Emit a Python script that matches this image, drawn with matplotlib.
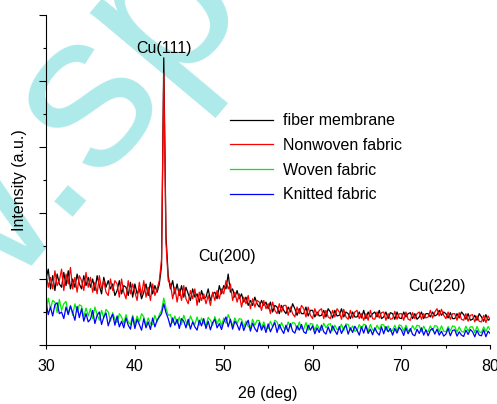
'''
XRD patterns of the Cu coated textiles
'''

import numpy as np
import matplotlib.pyplot as plt

plt.rcParams['font.family'] = ['Liberation Sans', 'DejaVu Sans']

# 2 theta grid, one reading every 0.25 deg from 30 to 80
two_theta = np.arange(30, 80.001, 0.25)

fiber_membrane = [
    2.00, 2.30, 1.70, 2.10, 1.65, 2.15, 1.85, 1.75, 2.20, 1.80, 2.25, 1.70,
    2.00, 1.75, 2.15, 1.85, 1.70, 2.10, 1.80, 2.05, 1.75, 2.00, 1.65, 2.10,
    1.80, 1.55, 2.05, 1.75, 1.95, 1.70, 1.85, 1.50, 1.65, 1.95, 1.55, 1.80,
    1.75, 1.50, 1.90, 1.45, 1.85, 1.55, 1.70, 1.40, 1.60, 1.85, 1.50, 1.90,
    1.55, 1.80, 1.60, 1.85, 2.40, 8.70, 3.30, 2.10, 1.70, 1.95, 1.55, 1.85,
    1.50, 1.80, 1.45, 1.75, 1.55, 1.35, 1.70, 1.45, 1.55, 1.30, 1.65, 1.40,
    1.45, 1.70, 1.35, 1.55, 1.60, 1.40, 1.80, 1.55, 1.80, 1.70, 2.15, 1.60,
    1.70, 1.45, 1.65, 1.40, 1.55, 1.30, 1.45, 1.20, 1.35, 1.20, 1.45, 1.25,
    1.15, 1.35, 1.20, 1.30, 1.10, 1.30, 1.00, 1.20, 1.15, 0.95, 1.20, 1.05,
    0.95, 1.15, 1.00, 1.25, 1.10, 0.90, 1.10, 0.95, 0.95, 1.15, 0.88, 1.05,
    1.05, 0.85, 1.00, 0.88, 0.90, 1.05, 0.85, 1.10, 1.00, 0.82, 1.05, 0.88,
    0.90, 1.10, 0.85, 1.00, 0.95, 0.80, 1.00, 0.85, 0.85, 1.00, 0.82, 1.05,
    0.80, 1.00, 0.85, 0.95, 1.00, 0.85, 1.05, 0.80, 0.85, 1.00, 0.80, 0.98,
    0.95, 0.78, 1.00, 0.82, 0.80, 1.00, 0.85, 0.95, 0.98, 0.80, 0.95, 0.78,
    0.85, 1.00, 0.80, 0.95, 0.95, 0.85, 1.00, 0.88, 0.92, 1.05, 0.90, 1.00,
    0.95, 0.82, 0.98, 0.80, 0.80, 0.95, 0.82, 1.00, 0.92, 0.78, 0.95, 0.75,
    0.78, 0.90, 0.75, 0.95, 0.85, 0.72, 0.92, 0.75, 0.80,
]

nonwoven = [
    2.20, 1.75, 2.05, 1.70, 2.25, 1.80, 1.95, 2.30, 1.65, 2.15, 1.85, 2.35,
    1.70, 2.05, 1.60, 2.10, 1.95, 1.65, 2.20, 1.75, 2.05, 1.60, 1.90, 1.55,
    2.10, 1.70, 1.95, 1.60, 1.50, 2.00, 1.65, 1.95, 1.85, 1.45, 2.00, 1.60,
    1.40, 1.95, 1.55, 1.85, 1.60, 1.35, 1.90, 1.50, 1.95, 1.45, 1.75, 1.35,
    1.85, 1.50, 1.70, 1.95, 2.60, 8.24, 3.10, 1.95, 1.85, 1.40, 1.75, 1.30,
    1.70, 1.35, 1.80, 1.40, 1.25, 1.65, 1.40, 1.70, 1.20, 1.60, 1.35, 1.55,
    1.25, 1.50, 1.20, 1.60, 1.35, 1.65, 1.40, 1.70, 1.55, 1.95, 1.70, 1.85,
    1.35, 1.60, 1.30, 1.55, 1.15, 1.45, 1.25, 1.50, 1.10, 1.40, 1.15, 1.35,
    1.30, 1.05, 1.35, 1.10, 1.25, 0.95, 1.30, 1.05, 0.95, 1.25, 1.00, 1.20,
    1.20, 0.90, 1.15, 0.95, 0.85, 1.15, 0.95, 1.20, 1.10, 0.85, 1.15, 0.90,
    0.80, 1.10, 0.90, 1.05, 1.10, 0.80, 1.05, 0.85, 0.80, 1.05, 0.85, 1.10,
    1.00, 0.78, 1.08, 0.85, 0.78, 1.05, 0.82, 1.00, 1.05, 0.80, 0.95, 0.75,
    0.95, 0.75, 1.05, 0.80, 0.78, 1.00, 0.82, 0.98, 1.00, 0.75, 0.95, 0.78,
    0.80, 1.02, 0.78, 0.95, 0.95, 0.75, 1.00, 0.78, 0.75, 0.98, 0.80, 0.95,
    1.00, 0.78, 0.95, 0.82, 0.85, 1.05, 0.82, 1.00, 1.10, 0.88, 1.08, 0.90,
    0.80, 1.00, 0.78, 0.95, 0.95, 0.75, 0.98, 0.78, 0.75, 0.95, 0.72, 0.90,
    0.92, 0.70, 0.88, 0.72, 0.70, 0.90, 0.68, 0.88, 0.75,
]

woven = [
    1.05, 1.42, 1.10, 1.35, 1.30, 0.98, 1.38, 1.05, 1.25, 1.32, 0.95, 1.20,
    0.90, 1.25, 1.00, 1.22, 1.18, 0.85, 1.12, 0.88, 1.10, 0.80, 1.15, 0.92,
    0.75, 1.05, 0.82, 1.08, 1.00, 0.72, 0.98, 0.78, 0.68, 0.95, 0.85, 0.65,
    0.92, 0.70, 0.62, 0.90, 0.62, 0.88, 0.70, 0.95, 0.85, 0.60, 0.82, 0.65,
    0.62, 0.90, 0.70, 0.92, 1.05, 1.42, 1.12, 0.90, 0.92, 0.68, 0.88, 0.65,
    0.85, 0.62, 0.90, 0.70, 0.60, 0.88, 0.72, 0.62, 0.85, 0.60, 0.82, 0.66,
    0.58, 0.84, 0.75, 0.60, 0.86, 0.64, 0.80, 0.58, 0.82, 0.66, 0.92, 0.75,
    0.58, 0.82, 0.65, 0.80, 0.78, 0.55, 0.72, 0.56, 0.52, 0.78, 0.60, 0.75,
    0.74, 0.52, 0.70, 0.50, 0.50, 0.72, 0.55, 0.75, 0.70, 0.48, 0.68, 0.52,
    0.47, 0.70, 0.55, 0.68, 0.66, 0.46, 0.70, 0.50, 0.48, 0.68, 0.45, 0.65,
    0.64, 0.45, 0.62, 0.50, 0.44, 0.66, 0.52, 0.62, 0.65, 0.44, 0.60, 0.47,
    0.48, 0.63, 0.43, 0.64, 0.62, 0.45, 0.58, 0.42, 0.44, 0.62, 0.50, 0.63,
    0.60, 0.42, 0.62, 0.46, 0.43, 0.60, 0.47, 0.62, 0.61, 0.44, 0.58, 0.41,
    0.45, 0.60, 0.42, 0.61, 0.58, 0.41, 0.60, 0.44, 0.42, 0.59, 0.46, 0.60,
    0.58, 0.40, 0.57, 0.43, 0.41, 0.58, 0.44, 0.59, 0.57, 0.40, 0.58, 0.42,
    0.40, 0.56, 0.43, 0.58, 0.56, 0.39, 0.55, 0.41, 0.39, 0.57, 0.42, 0.55,
    0.55, 0.38, 0.56, 0.40, 0.38, 0.55, 0.41, 0.56, 0.45,
]

knitted = [
    1.30, 0.92, 1.15, 0.88, 1.22, 1.28, 0.95, 1.00, 0.80, 1.15, 0.92, 1.18,
    0.98, 0.75, 1.17, 0.83, 1.10, 0.72, 0.95, 0.70, 0.78, 1.05, 0.65, 0.90,
    1.00, 0.62, 0.85, 0.97, 0.58, 0.80, 0.93, 0.60, 0.88, 0.55, 0.72, 0.52,
    0.82, 0.60, 0.48, 0.85, 0.50, 0.78, 0.62, 0.45, 0.80, 0.52, 0.70, 0.47,
    0.82, 0.55, 0.75, 0.85, 0.95, 1.25, 0.98, 0.80, 0.55, 0.82, 0.60, 0.78,
    0.50, 0.80, 0.72, 0.52, 0.78, 0.48, 0.70, 0.55, 0.45, 0.75, 0.58, 0.80,
    0.50, 0.72, 0.46, 0.68, 0.78, 0.52, 0.65, 0.47, 0.70, 0.85, 0.55, 0.78,
    0.48, 0.72, 0.62, 0.45, 0.70, 0.44, 0.62, 0.75, 0.42, 0.66, 0.50, 0.40,
    0.68, 0.45, 0.60, 0.38, 0.64, 0.40, 0.55, 0.68, 0.38, 0.62, 0.47, 0.35,
    0.60, 0.40, 0.65, 0.42, 0.36, 0.58, 0.45, 0.62, 0.40, 0.35, 0.60, 0.45,
    0.58, 0.34, 0.52, 0.38, 0.60, 0.40, 0.33, 0.55, 0.36, 0.58, 0.44, 0.32,
    0.56, 0.35, 0.50, 0.60, 0.33, 0.52, 0.38, 0.57, 0.45, 0.30, 0.55, 0.36,
    0.58, 0.35, 0.48, 0.31, 0.52, 0.38, 0.30, 0.55, 0.34, 0.56, 0.40, 0.50,
    0.30, 0.50, 0.36, 0.54, 0.45, 0.29, 0.52, 0.34, 0.50, 0.32, 0.28, 0.48,
    0.35, 0.52, 0.30, 0.46, 0.28, 0.45, 0.50, 0.33, 0.48, 0.30, 0.42, 0.27,
    0.33, 0.50, 0.28, 0.44, 0.46, 0.27, 0.40, 0.30, 0.26, 0.45, 0.32, 0.47,
    0.40, 0.25, 0.44, 0.30, 0.28, 0.46, 0.25, 0.42, 0.34,
]

series_names = ['fiber membrane', 'Nonwoven fabric', 'Woven fabric', 'Knitted fabric']
series_colors = ['black', 'red', '#00ee00', 'blue']

peak_labels = ['Cu(111)', 'Cu(200)', 'Cu(220)']
peak_pos = [43.3, 50.4, 74.0]
peak_label_y = [8.99, 2.68, 1.76]

fig = plt.figure(figsize=(4.97, 4.04), dpi=100)
ax = fig.add_axes([0.0926, 0.146, 0.894, 0.817])
ax.patch.set_visible(False)

# watermark in the background
fig.text(-0.485, -0.463, 'www.springer.com', fontsize=160,
         color='#aeeaea', rotation=50, rotation_mode='anchor',
         ha='left', va='baseline', zorder=-1)

for values, name, color in zip([fiber_membrane, nonwoven, woven, knitted],
                               series_names, series_colors):
    ax.plot(two_theta, values, color=color, linewidth=0.9, label=name)

for label, xp, yp in zip(peak_labels, peak_pos, peak_label_y):
    ax.text(xp, yp, label, fontsize=11.5, ha='center', va='center')

ax.set_xlim(30, 80)
ax.set_ylim(0, 10)
ax.set_xticks([30, 40, 50, 60, 70, 80])
ax.set_xticks([35, 45, 55, 65, 75], minor=True)
ax.set_yticks([0, 2, 4, 6, 8, 10])
ax.set_yticks([1, 3, 5, 7, 9], minor=True)
ax.set_yticklabels([])
ax.tick_params(axis='x', which='major', length=3, width=0.8, labelsize=11.5, pad=7)
ax.tick_params(axis='x', which='minor', length=2, width=0.8)
ax.tick_params(axis='y', which='major', length=5, width=0.8)
ax.tick_params(axis='y', which='minor', length=2.5, width=0.8)
ax.spines['top'].set_visible(False)
ax.spines['right'].set_visible(False)

ax.set_xlabel('2θ (deg)', fontsize=11.5, labelpad=9)
ax.set_ylabel('Intensity (a.u.)', fontsize=11.5, labelpad=5)

ax.legend(loc='upper left', bbox_to_anchor=(0.434, 0.755),
          bbox_transform=fig.transFigure, frameon=False, fontsize=11.5,
          handlelength=2.7, handletextpad=0.62, labelspacing=0.6)

plt.savefig('out.png', dpi=100)
